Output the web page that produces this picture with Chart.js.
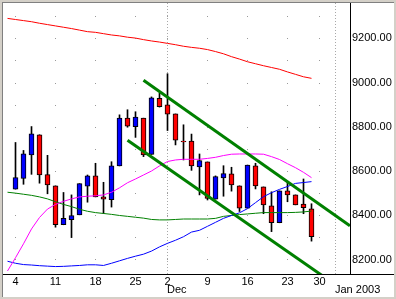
<!DOCTYPE html>
<html>
<head>
<meta charset="utf-8">
<script src="https://cdn.jsdelivr.net/npm/chart.js@4.4.0/dist/chart.umd.min.js"></script>
<style>
  html, body { margin: 0; padding: 0; background: #d4d0c8; }
  #frame { position: absolute; left: 2px; top: 2px; width: 391px; height: 294px;
           border-left: 1px solid #808080; border-top: 1px solid #808080; background: #fff; }
  #chart { display: block; }
</style>
</head>
<body>
<div id="frame"><canvas id="chart" width="391" height="294"></canvas></div>
<script>
// Daily candles, Nov 4 - Dec 27 2002 (trading days only, index 0 = Nov 4)
const opens  = [8518,8567,8673,8764,8584,8533,8357,8380,8402,8531,8578,8483,8471,8623,8839,8801,8839,8675,8929,8899,8858,8735,8735,8618,8641,8473,8569,8587,8533,8432,8623,8528,8443,8366,8510,8492,8450,8429];
const highs  = [8729,8693,8801,8764,8671,8533,8503,8492,8543,8582,8635,8549,8642,8854,8877,8868,8839,8935,8952,9040,8858,8809,8767,8677,8641,8578,8624,8617,8533,8627,8635,8528,8506,8510,8551,8492,8564,8452];
const lows   = [8518,8540,8585,8545,8497,8346,8357,8299,8402,8459,8483,8408,8437,8623,8798,8752,8665,8675,8889,8783,8718,8650,8603,8492,8469,8473,8486,8509,8417,8432,8519,8407,8326,8366,8461,8447,8407,8283];
const closes = [8570,8678,8768,8582,8537,8357,8386,8398,8543,8578,8483,8473,8623,8839,8803,8844,8673,8931,8891,8857,8740,8731,8623,8647,8476,8575,8588,8537,8432,8627,8533,8447,8366,8510,8492,8447,8434,8303];

// Moving averages, first value is the day before Nov 4 (index -1)
const maPink  = [8148,8208,8271,8338,8390,8428,8449,8463,8474,8483,8486,8488,8492,8504,8524,8547,8564,8582,8600,8623,8643,8650,8653,8653,8653,8657,8662,8670,8676,8677,8677,8677,8676,8665,8652,8633,8615,8594,8570];
const maBlue  = [8192,8183,8177,8175,8172,8170,8168,8169,8171,8173,8176,8176,8173,8183,8194,8205,8215,8224,8238,8257,8273,8287,8303,8324,8332,8350,8368,8386,8399,8411,8430,8457,8484,8502,8517,8530,8544,8548,8552];
const maGreen = [8504,8500,8495,8490,8483,8474,8461,8449,8439,8427,8418,8412,8408,8404,8399,8395,8391,8387,8381,8379,8379,8381,8383,8383,8383,8383,8386,8395,8399,8403,8406,8409,8412,8412,8412,8412,8413,8415,8419];
const maRed   = [9290,9285,9280,9275,9268,9262,9256,9250,9244,9237,9230,9227,9221,9215,9211,9205,9201,9194,9188,9183,9177,9171,9164,9159,9155,9149,9140,9130,9117,9106,9094,9085,9076,9068,9060,9048,9037,9026,9019];

// Trend channel (index, value) end points
const upperX = [16, 41.8], upperY = [9010, 8352];
const lowerX = [14, 41.8], lowerY = [8739, 8040];

// Axis ticks
const xTickIdx  = [0, 5, 10, 15, 19, 24, 29, 34, 38];
const xTickText = ['4','11','18','25','2','9','16','23','30'];
const monthIdx  = [19, 40];
const monthText = ['Dec', 'Jan 2003'];
const yLabels   = [8200, 8400, 8600, 8800, 9000, 9200];
const yGrid     = [8200, 8300, 8400, 8500, 8600, 8700, 8800, 8900, 9000, 9100, 9200, 9300];

const FONT = { family: '"Liberation Sans", Arial, sans-serif', size: 11 };

const idx = opens.map((_, i) => i);
const maPts = arr => arr.map((v, i) => ({ x: i - 1, y: v }));
const linePts = (xs, ys) => xs.map((x, i) => ({ x, y: ys[i] }));

const gridDots = {
  id: 'gridDots',
  beforeDatasetsDraw(chart) {
    const { ctx, chartArea, scales: { x, y } } = chart;
    ctx.save();
    ctx.fillStyle = '#9a9a9a';
    yGrid.forEach(v => {
      const py = Math.round(y.getPixelForValue(v));
      xTickIdx.forEach(i => ctx.fillRect(Math.floor(x.getPixelForValue(i)), py, 1, 1));
    });
    ctx.strokeStyle = '#a8a8a8';
    ctx.lineWidth = 1;
    ctx.setLineDash([1, 2]);
    monthIdx.forEach(i => {
      const px = Math.floor(x.getPixelForValue(i)) + 0.5;
      ctx.beginPath();
      ctx.moveTo(px, chartArea.top);
      ctx.lineTo(px, chartArea.bottom);
      ctx.stroke();
    });
    ctx.restore();
  },
  afterDraw(chart) {
    const { ctx, chartArea, scales: { x } } = chart;
    ctx.save();
    ctx.strokeStyle = '#000';
    ctx.lineWidth = 1;
    ctx.beginPath();
    ctx.moveTo(0, chartArea.bottom + 0.5);
    ctx.lineTo(chart.width, chartArea.bottom + 0.5);
    ctx.stroke();
    ctx.fillStyle = '#000';
    ctx.font = FONT.size + 'px ' + FONT.family;
    ctx.textAlign = 'left';
    ctx.textBaseline = 'middle';
    monthIdx.forEach((i, k) => ctx.fillText(monthText[k], x.getPixelForValue(i) - 0.5, chartArea.bottom + 16));
    ctx.restore();
  }
};

new Chart(document.getElementById('chart'), {
  type: 'bar',
  data: {
    datasets: [
      { type: 'line', data: linePts(upperX, upperY), borderColor: '#008000', borderWidth: 3, pointRadius: 0, order: 0 },
      { type: 'line', data: linePts(lowerX, lowerY), borderColor: '#008000', borderWidth: 3, pointRadius: 0, order: 0 },
      { type: 'line', data: maPts(maRed), borderColor: '#ff0000', borderWidth: 1, pointRadius: 0, order: 1 },
      { type: 'line', data: maPts(maPink), borderColor: '#ff00ff', borderWidth: 1, pointRadius: 0, order: 1 },
      { type: 'line', data: maPts(maBlue), borderColor: '#0000ff', borderWidth: 1, pointRadius: 0, order: 1 },
      { type: 'line', data: maPts(maGreen), borderColor: '#008000', borderWidth: 1, pointRadius: 0, order: 1 },
      {
        data: idx.map(i => ({ x: i, y: [Math.min(opens[i], closes[i]), Math.max(opens[i], closes[i])] })),
        backgroundColor: idx.map(i => closes[i] >= opens[i] ? '#0000ff' : '#ff0000'),
        borderColor: '#000', borderWidth: 1, borderSkipped: false,
        barThickness: 5, grouped: false, order: 2
      },
      {
        data: idx.map(i => ({ x: i, y: [lows[i], highs[i]] })),
        backgroundColor: '#000', borderWidth: 0,
        barThickness: 1, grouped: false, order: 3
      }
    ]
  },
  options: {
    responsive: false,
    animation: false,
    devicePixelRatio: 1,
    layout: { padding: 0 },
    plugins: { legend: { display: false }, tooltip: { enabled: false } },
    scales: {
      x: {
        type: 'linear', min: -1.5625, max: 41.8125, offset: false,
        grid: { display: false, offset: false, drawTicks: false },
        border: { display: false },
        afterBuildTicks: s => { s.ticks = xTickIdx.map(v => ({ value: v })); },
        afterFit: s => { s.height = 23; s.paddingLeft = 0; s.paddingRight = 0; },
        ticks: { font: FONT, color: '#000', padding: 1, maxRotation: 0, autoSkip: false,
                 callback: (v, i) => xTickText[i] }
      },
      y: {
        position: 'right', min: 8134.4, max: 9359.6,
        grid: { display: false, drawTicks: false },
        border: { display: true, color: '#000', width: 1 },
        afterBuildTicks: s => { s.ticks = yLabels.map(v => ({ value: v })); },
        afterFit: s => { s.width = 44; s.paddingTop = 0; s.paddingBottom = 0; },
        ticks: { font: FONT, color: '#000', padding: 2, callback: v => v.toFixed(2) }
      }
    }
  },
  plugins: [gridDots]
});
</script>
</body>
</html>
